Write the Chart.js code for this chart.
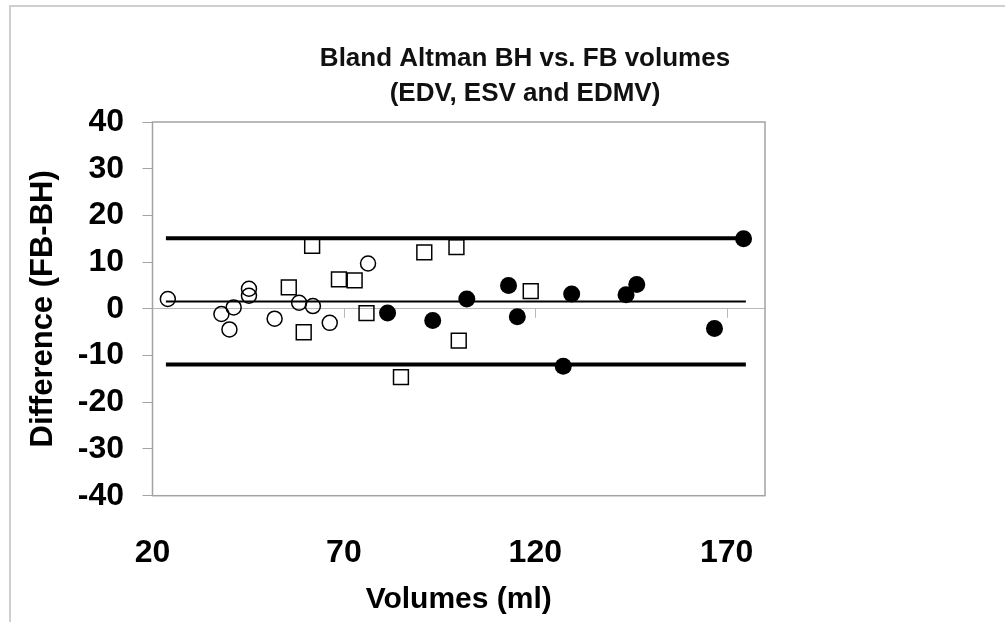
<!DOCTYPE html>
<html>
<head>
<meta charset="utf-8">
<script src="https://cdn.jsdelivr.net/npm/chart.js@4.4.0/dist/chart.umd.min.js"></script>
<style>
  html, body { margin: 0; padding: 0; background: #fff; overflow: hidden; }
  #wrap { position: relative; width: 1005px; height: 622px; }
  #c { position: absolute; left: 0; top: 0; }
  #frame { position: absolute; left: 9px; top: 5px; width: 1100px; height: 700px;
           border-top: 2px solid #cfcfcf; border-left: 2px solid #cfcfcf; pointer-events: none; }
</style>
</head>
<body>
<div id="wrap">
  <canvas id="c" width="1005" height="622"></canvas>
  <div id="frame"></div>
</div>
<script>
// ---- data ----
const esvX  = [24.0, 38.0, 40.1, 41.2, 45.2, 45.2, 51.9, 58.3, 61.9, 66.3, 76.3];
const esvY  = [2.1, -1.1, -4.4, 0.3, 4.3, 2.8, -2.1, 1.3, 0.6, -3.0, 9.7];
const edmvX = [61.7, 55.6, 59.5, 68.7, 72.8, 75.9, 84.9, 91.0, 99.4, 100.0, 118.8];
const edmvY = [13.5, 4.6, -5.0, 6.3, 6.1, -0.9, -14.6, 12.1, 13.2, -6.8, 3.8];
const edvX  = [81.4, 93.2, 102.1, 113.0, 115.3, 129.5, 127.3, 143.7, 146.5, 166.8, 174.4];
const edvY  = [-0.9, -2.5, 2.1, 5.0, -1.7, 3.2, -12.3, 3.0, 5.2, -4.2, 15.0];
const lineX = [23.5, 175];
const upperLoA = 15.1;
const meanDiff = 1.6;
const lowerLoA = -11.9;
const xTicks = [20, 70, 120, 170];
const xMin = 20, xMax = 180;
const yMin = -40, yMax = 40, yStep = 10;
const titleLines = ['Bland Altman BH vs. FB volumes', '(EDV, ESV and EDMV)'];
const xTitle = 'Volumes (ml)';
const yTitle = 'Difference (FB-BH)';

const pts = (xs, ys) => xs.map((x, i) => ({x: x, y: ys[i]}));
const hline = v => lineX.map(x => ({x: x, y: v}));

const FONT = "'Liberation Sans', Arial, Helvetica, sans-serif";

const framePlugin = {
  id: 'frame',
  beforeDatasetsDraw(chart) {
    const {ctx, chartArea: a, scales: {x, y}} = chart;
    ctx.save();
    ctx.strokeStyle = '#a3a3a3';
    ctx.lineWidth = 1.5;
    ctx.strokeRect(a.left, a.top, a.right - a.left, a.bottom - a.top);
    const y0 = y.getPixelForValue(0);
    ctx.strokeStyle = '#b8b8b8';
    ctx.lineWidth = 1;
    x.ticks.forEach(t => {
      if (t.value === xMin) return;
      const px = Math.round(x.getPixelForValue(t.value)) + 0.5;
      ctx.beginPath();
      ctx.moveTo(px, y0);
      ctx.lineTo(px, y0 + 9);
      ctx.stroke();
    });
    ctx.restore();
  }
};

new Chart(document.getElementById('c'), {
  type: 'scatter',
  data: {
    datasets: [
      { label: 'ESV', data: pts(esvX, esvY), pointStyle: 'circle', pointRadius: 7.5,
        borderColor: '#000', backgroundColor: 'rgba(0,0,0,0)', borderWidth: 1.5 },
      { label: 'EDMV', data: pts(edmvX, edmvY), pointStyle: 'rect', pointRadius: 10.5,
        borderColor: '#000', backgroundColor: 'rgba(0,0,0,0)', borderWidth: 1.5 },
      { label: 'EDV', data: pts(edvX, edvY), pointStyle: 'circle', pointRadius: 8.5,
        borderColor: '#000', backgroundColor: '#000', borderWidth: 0 },
      { label: 'Upper LoA', data: hline(upperLoA), showLine: true, pointRadius: 0,
        borderColor: '#000', borderWidth: 4 },
      { label: 'Mean', data: hline(meanDiff), showLine: true, pointRadius: 0,
        borderColor: '#000', borderWidth: 2 },
      { label: 'Lower LoA', data: hline(lowerLoA), showLine: true, pointRadius: 0,
        borderColor: '#000', borderWidth: 4 }
    ]
  },
  plugins: [framePlugin],
  options: {
    responsive: false,
    animation: false,
    layout: { padding: { left: 45, right: 0, top: 0, bottom: 0 } },
    plugins: {
      legend: { display: false },
      tooltip: { enabled: false },
      title: {
        display: true,
        text: titleLines,
        color: '#111',
        font: { family: FONT, size: 26, weight: 'bold', lineHeight: 35 / 26 },
        padding: { top: 41.5, bottom: 10.5 }
      }
    },
    scales: {
      x: {
        type: 'linear',
        min: xMin, max: xMax,
        afterBuildTicks: s => { s.ticks = xTicks.map(v => ({value: v})); },
        afterFit: s => { s.height = 126.3; },
        grid: { display: false, drawTicks: false },
        border: { display: false },
        ticks: { color: '#000', padding: 38, font: { family: FONT, size: 32, weight: 'bold' } },
        title: { display: true, text: xTitle, color: '#000',
                 font: { family: FONT, size: 30, weight: 'bold' },
                 padding: { top: 0, bottom: 4 } }
      },
      y: {
        type: 'linear',
        min: yMin, max: yMax,
        afterFit: s => { s.width = 107.5; },
        ticks: { stepSize: yStep, color: '#000', padding: 18.5,
                 font: { family: FONT, size: 32, weight: 'bold' } },
        grid: {
          drawTicks: true, tickLength: 10,
          color: c => (c.tick && c.tick.value === 0) ? '#b8b8b8' : 'rgba(0,0,0,0)',
          tickColor: '#a3a3a3', lineWidth: 1
        },
        border: { display: false },
        title: { display: true, text: yTitle, color: '#000',
                 font: { family: FONT, size: 31, weight: 'bold' },
                 padding: { top: -20.6, bottom: 0 } }
      },
      spacer: {
        type: 'linear',
        position: 'right',
        display: true,
        afterFit: s => { s.width = 240; },
        ticks: { display: false },
        grid: { display: false, drawTicks: false },
        border: { display: false },
        title: { display: false }
      }
    }
  }
});
</script>
</body>
</html>
